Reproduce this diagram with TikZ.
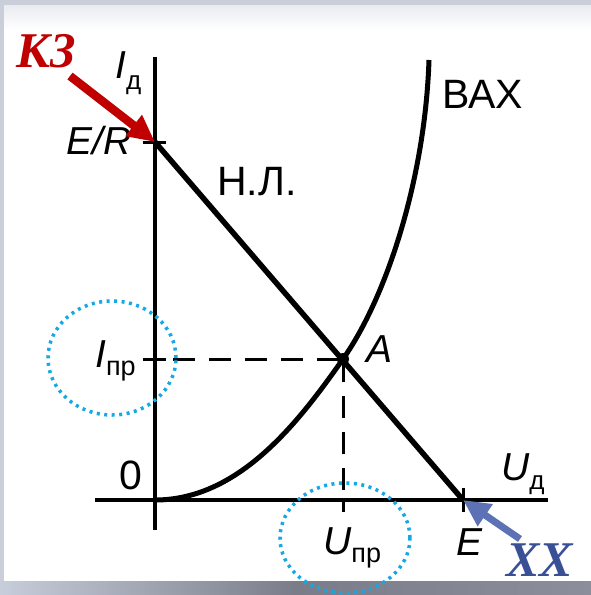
\documentclass[tikz,border=0pt]{standalone}
\usepackage{fontspec}
\setmainfont{Liberation Sans}
\newfontfamily\serifbi{Liberation Serif}
\usetikzlibrary{arrows.meta}
\definecolor{kzred}{HTML}{C00000}
\definecolor{xxtext}{HTML}{3A5096}
\definecolor{xxarrow}{HTML}{5D72B4}
\definecolor{ringblue}{HTML}{14A9E6}
\definecolor{bandgray}{HTML}{CACED9}
\definecolor{shadowlight}{HTML}{C8CDDB}
\definecolor{shadowdark}{HTML}{7A7D89}
\definecolor{shadowmid}{HTML}{8C8F9B}
\begin{document}
\begin{tikzpicture}[x=1pt,y=-1pt,
  axisline/.style={line width=4.8pt},
  curveline/.style={line width=5pt},
  guide/.style={line width=3pt, dash pattern=on 22pt off 14pt},
  ring/.style={draw=ringblue, line width=3.5pt, dash pattern=on 3pt off 4.5pt},
  lbl/.style={font=\fontsize{41}{44}\selectfont, inner sep=0pt},
  ilbl/.style={font=\fontsize{39}{42}\selectfont\itshape, inner sep=0pt},
  bigmark/.style={font=\fontsize{50}{52}\selectfont\serifbi\bfseries\itshape, inner sep=0pt},
  fatarrow/.style={line width=8.5pt, -{Triangle[length=27pt,width=25pt]}}
]
\useasboundingbox (0,0) rectangle (591,595);
% frame
\fill[white] (0,0) rectangle (591,595);
\shade[top color=bandgray!40, bottom color=white] (0,5) rectangle (591,30);
\fill[bandgray] (0,0) rectangle (591,5);
\fill[bandgray] (0,0) rectangle (4,581);
\shade[left color=shadowlight, right color=shadowmid, middle color=shadowdark] (0,581) rectangle (591,595);

% coordinates
\coordinate (O) at (155,500);
\coordinate (ytop) at (155,57);
\coordinate (ybot) at (155,530);
\coordinate (xl) at (95,500);
\coordinate (xr) at (548,500);
\coordinate (ER) at (155,142);
\coordinate (E) at (463,500);
\coordinate (A) at (343,359);
\coordinate (Vtop) at (429,60);

% axes
\draw[axisline] (ytop) -- (ybot);
\draw[axisline] (xl) -- (xr);
% ticks
\draw[line width=3pt] (143,142) -- (166,142);
\draw[line width=3pt] (463,488) -- (463,512);
\draw[line width=3pt] (343,500) -- (343,512);
\draw[line width=3pt] (143,359) -- (166,359);

% guides
\draw[guide] (173,359) -- (A);
\draw[guide] (343,490) -- (A);

% load line
\draw[line width=5.5pt] (ER) -- (E);
% characteristic
\draw[curveline] (O) .. controls (240,500) and (300,420) .. (A)
  .. controls (386,298) and (425,180) .. (Vtop);
\fill (A) circle (6pt);

% labels
\node[ilbl, anchor=base west] (Id) at (115,78) {I\raisebox{-11pt}{\fontsize{26}{27}\selectfont\upshape д}};
\node[ilbl, anchor=base east] (ERl) at (132,154) {E/R};
\node[lbl, anchor=base west] (NL) at (217,195) {Н.Л.};
\node[lbl, anchor=base west] (VAX) at (442,108) {ВАХ};
\node[ilbl, anchor=base west] (Al) at (366,362) {A};
\node[ilbl, anchor=base west] (Ipr) at (95,367) {I\raisebox{-8pt}{\fontsize{27}{28}\selectfont\upshape пр}};
\node[lbl, anchor=base west] (zero) at (119,489) {0};
\node[ilbl, anchor=base west] (Ud) at (501,480) {U\raisebox{-9pt}{\fontsize{26}{27}\selectfont\upshape д}};
\node[ilbl, anchor=base west] (Upr) at (323,554) {U\raisebox{-8pt}{\fontsize{27}{28}\selectfont\upshape пр}};
\node[ilbl, anchor=base west] (El) at (456,555) {E};

% rings
\draw[ring] (112,358) ellipse [x radius=64pt, y radius=57pt];
\draw[ring] (345,538) ellipse [x radius=65pt, y radius=55pt];

% marks
\node[bigmark, text=kzred, anchor=base west] (KZ) at (16,67) {КЗ};
\coordinate (kzs) at (70,76);
\draw[fatarrow, draw=kzred, fill=kzred] (kzs) -- (ER);
\node[bigmark, text=xxtext, anchor=base west] (XX) at (506,576) {ХХ};
\coordinate (xxs) at (520,539);
\draw[fatarrow, line width=7pt, draw=xxarrow, fill=xxarrow] (xxs) -- (E);
\end{tikzpicture}
\end{document}
